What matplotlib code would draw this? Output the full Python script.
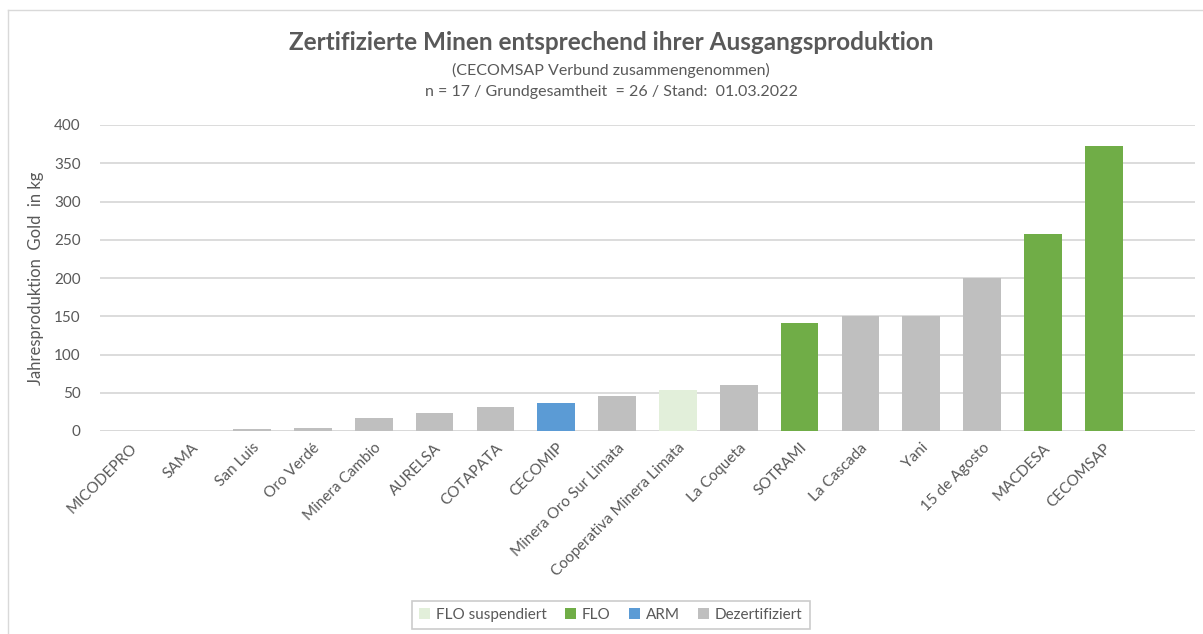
import matplotlib
matplotlib.use("Agg")
import matplotlib.pyplot as plt
from matplotlib.patches import Patch
from matplotlib.lines import Line2D

categories = ["MICODEPRO", "SAMA", "San Luis", "Oro Verdé", "Minera Cambio", "AURELSA",
              "COTAPATA", "CECOMIP", "Minera Oro Sur Limata", "Cooperativa Minera Limata",
              "La Coqueta", "SOTRAMI", "La Cascada", "Yani", "15 de Agosto", "MACDESA", "CECOMSAP"]
values = [0, 0, 2, 4.5, 16.5, 24, 31, 36, 46, 53, 60, 141, 150, 150, 200, 258, 373]
status = ["Dezertifiziert", "Dezertifiziert", "Dezertifiziert", "Dezertifiziert", "Dezertifiziert",
          "Dezertifiziert", "Dezertifiziert", "ARM", "Dezertifiziert", "FLO suspendiert",
          "Dezertifiziert", "FLO", "Dezertifiziert", "Dezertifiziert", "Dezertifiziert", "FLO", "FLO"]
legend_order = ["FLO suspendiert", "FLO", "ARM", "Dezertifiziert"]
colors = {"FLO suspendiert": "#E2EFDA", "FLO": "#70AD47", "ARM": "#5B9BD5", "Dezertifiziert": "#BFBFBF"}

plt.rcParams['font.family'] = ['Lato', 'DejaVu Sans']
txt = "#595959"

fig = plt.figure(figsize=(12.03, 6.34), dpi=100)
W, H = 1203, 634
ax = fig.add_axes([100 / W, 1 - 431 / H, (1195 - 100) / W, (431 - 125) / H])

x = list(range(len(categories)))
ax.bar(x, values, width=0.62, color=[colors[s] for s in status], zorder=3)
ax.set_xlim(-0.5, len(categories) + 0.5)
ax.set_ylim(0, 400)
ax.set_yticks(range(0, 401, 50))
ax.yaxis.grid(True, color="#D9D9D9", linewidth=1.3, zorder=0)
for s in ax.spines.values():
    s.set_visible(False)
ax.axhline(0, color="#D9D9D9", linewidth=1.3, zorder=2)
ax.tick_params(axis="both", length=0, colors=txt, labelsize=11)
ax.tick_params(axis="y", pad=14)
ax.set_xticks(x)
ax.set_xticklabels(categories, rotation=45, ha="right", rotation_mode="anchor", color=txt, fontsize=11)
ax.tick_params(axis="x", pad=7)
ax.set_ylabel("Jahresproduktion  Gold  in kg", color=txt, fontsize=12, labelpad=7)

fig.text(611 / W, 1 - 42 / H, "Zertifizierte Minen entsprechend ihrer Ausgangsproduktion",
         ha="center", va="center", fontsize=17.5, fontweight="bold", color=txt)
fig.text(611 / W, 1 - 70 / H, "(CECOMSAP Verbund zusammengenommen)",
         ha="center", va="center", fontsize=11.5, color=txt)
fig.text(611 / W, 1 - 92 / H, "n = 17 / Grundgesamtheit  = 26 / Stand:  01.03.2022",
         ha="center", va="center", fontsize=11.5, color=txt)

handles = [Patch(facecolor=colors[k], edgecolor="none") for k in legend_order]
leg = fig.legend(handles, legend_order, loc="center", bbox_to_anchor=(611 / W, 1 - 615 / H),
                 ncol=4, frameon=True, fontsize=11, handlelength=0.7, handleheight=0.7,
                 handletextpad=0.4, columnspacing=1.2, borderpad=0.45, fancybox=False)
leg.get_frame().set_edgecolor("#BFBFBF")
leg.get_frame().set_linewidth(1.2)
for t in leg.get_texts():
    t.set_color(txt)

# outer chart frame
fig.add_artist(Line2D([8 / W, 8 / W], [0, 1 - 10 / H], transform=fig.transFigure, color="#D9D9D9", lw=1))
fig.add_artist(Line2D([8 / W, 1], [1 - 10 / H, 1 - 10 / H], transform=fig.transFigure, color="#D9D9D9", lw=1))

fig.savefig("out.png", dpi=100)
